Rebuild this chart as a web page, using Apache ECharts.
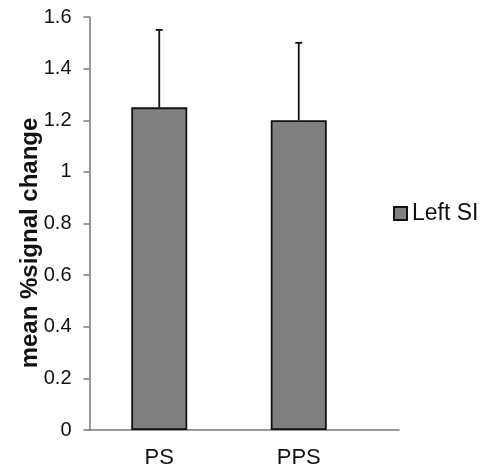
<!DOCTYPE html>
<html>
<head>
<meta charset="utf-8">
<script src="https://cdn.jsdelivr.net/npm/echarts@6/dist/echarts.min.js"></script>
<style>html,body{margin:0;padding:0;background:#fff;}#c{width:484px;height:474px;}</style>
</head>
<body>
<div id="c"></div>
<script>
var categories = ['PS', 'PPS'];
var seriesName = 'Left SI';
var means = [1.25, 1.2];
var errors = [0.3, 0.3];
var yTicks = [0, 0.2, 0.4, 0.6, 0.8, 1, 1.2, 1.4, 1.6];
var yTitle = 'mean %signal change';

var font = '"Liberation Sans", Arial, sans-serif';
var chart = echarts.init(document.getElementById('c'));
chart.setOption({
  animation: false,
  backgroundColor: '#fff',
  grid: [
    { left: 89.5, width: 279, top: 17, bottom: 44 },
    { left: 89, width: 310, top: 17, bottom: 44 }
  ],
  legend: {
    data: [seriesName],
    left: 393, top: 202,
    icon: 'rect', itemWidth: 13, itemHeight: 13, itemGap: 5, padding: 0,
    textStyle: { fontFamily: font, fontSize: 23, color: '#111' }
  },
  xAxis: [
    {
      type: 'category', data: categories, gridIndex: 0,
      axisLine: { show: false },
      axisTick: { show: false },
      axisLabel: { fontFamily: font, fontSize: 22, color: '#111', margin: 17 }
    },
    {
      type: 'category', data: categories, gridIndex: 1,
      axisLine: { show: true, lineStyle: { color: '#7a7a7a', width: 1.5 } },
      axisTick: { show: false }, axisLabel: { show: false }
    }
  ],
  yAxis: [
    {
      type: 'value', gridIndex: 0, min: yTicks[0], max: yTicks[yTicks.length - 1], interval: 0.2,
      axisLine: { show: true, lineStyle: { color: '#7a7a7a', width: 1.5 } },
      axisTick: { show: true, length: 6, lineStyle: { color: '#7a7a7a', width: 1.5 } },
      splitLine: { show: false },
      axisLabel: {
        fontFamily: font, fontSize: 20, color: '#111', margin: 18,
        formatter: function (v) { return String(Math.round(v * 10) / 10); }
      }
    },
    { type: 'value', gridIndex: 1, show: false, min: 0, max: 1.6 }
  ],
  graphic: [{
    type: 'text',
    x: 30, y: 243, rotation: Math.PI / 2,
    style: {
      text: yTitle, font: 'bold 24px ' + font, fill: '#111',
      textAlign: 'center', textVerticalAlign: 'middle'
    }
  }],
  series: [
    {
      name: seriesName, type: 'bar', data: means, barWidth: 56,
      xAxisIndex: 0, yAxisIndex: 0,
      itemStyle: { color: '#808080', borderColor: '#111', borderWidth: 1.8 }
    },
    {
      type: 'custom', xAxisIndex: 0, yAxisIndex: 0,
      data: means.map(function (m, i) { return [i, m, m + errors[i]]; }),
      renderItem: function (params, api) {
        var base = api.coord([api.value(0), api.value(1)]);
        var top = api.coord([api.value(0), api.value(2)]);
        return {
          type: 'group',
          children: [
            { type: 'line', shape: { x1: base[0], y1: base[1], x2: top[0], y2: top[1] }, style: { stroke: '#111', lineWidth: 1.8 } },
            { type: 'line', shape: { x1: top[0] - 3.5, y1: top[1], x2: top[0] + 3.5, y2: top[1] }, style: { stroke: '#111', lineWidth: 1.8 } }
          ]
        };
      },
      z: 3
    }
  ]
});
</script>
</body>
</html>
